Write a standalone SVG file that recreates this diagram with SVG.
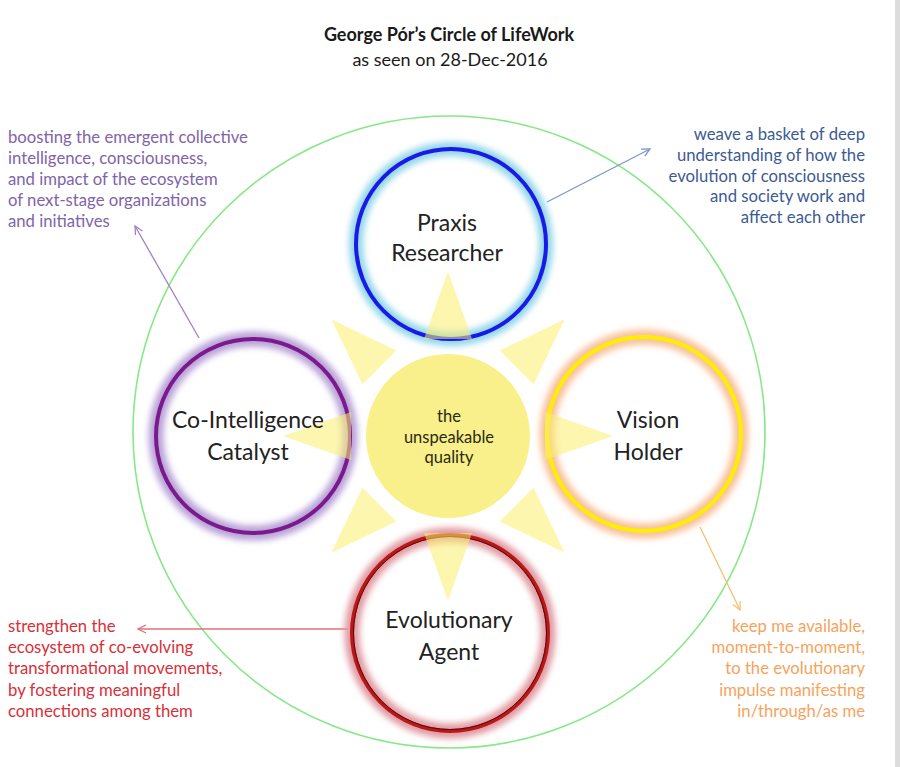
<svg xmlns="http://www.w3.org/2000/svg" xmlns:xlink="http://www.w3.org/1999/xlink" width="900" height="767" viewBox="0 0 900 767">
<style>
text{font-family:Lato,"Open Sans","Liberation Sans",sans-serif}
.title{font-size:18px;font-weight:bold;fill:#1a1a1a;text-anchor:middle}
.sub{font-size:18px;fill:#1a1a1a;text-anchor:middle}
.lbl{font-size:23px;fill:#222;text-anchor:middle}
.ctr{font-size:16.5px;fill:#2a2a10;text-anchor:middle}
.note{font-size:16.7px}
.pur{fill:#8064a8}
.blu{fill:#3c5a94;text-anchor:end}
.red{fill:#d83038}
.org{fill:#f7a35c;text-anchor:end}
.ray{fill:#faee6e;opacity:0.55}
.conn{fill:none;stroke-width:1.3}
</style>
<defs>
<filter id="glow" x="-20%" y="-20%" width="140%" height="140%"><feGaussianBlur stdDeviation="3"/></filter>
<marker id="mp" viewBox="0 0 10 10" refX="9" refY="5" markerWidth="10" markerHeight="10" markerUnits="userSpaceOnUse" orient="auto"><path d="M1,1 L9,5 L1,9" fill="none" stroke="#a080c8" stroke-width="1.3"/></marker>
<marker id="mb" viewBox="0 0 10 10" refX="9" refY="5" markerWidth="10" markerHeight="10" markerUnits="userSpaceOnUse" orient="auto"><path d="M1,1 L9,5 L1,9" fill="none" stroke="#7b98c8" stroke-width="1.3"/></marker>
<marker id="mo" viewBox="0 0 10 10" refX="9" refY="5" markerWidth="10" markerHeight="10" markerUnits="userSpaceOnUse" orient="auto"><path d="M1,1 L9,5 L1,9" fill="none" stroke="#f8c070" stroke-width="1.3"/></marker>
<marker id="mr" viewBox="0 0 10 10" refX="9" refY="5" markerWidth="10" markerHeight="10" markerUnits="userSpaceOnUse" orient="auto"><path d="M1,1 L9,5 L1,9" fill="none" stroke="#e07078" stroke-width="1.3"/></marker>
<polygon id="rayshape" points="448,271 424,339 472,339"/>
</defs>
<rect width="900" height="767" fill="#ffffff"/>
<rect x="895" y="0" width="5" height="767" fill="#dcdcdc"/>

<g id="title">
<text class="title" x="449" y="41">George Pór’s Circle of LifeWork</text>
<text class="sub" x="450" y="66">as seen on 28-Dec-2016</text>
</g>

<circle id="outer-circle" cx="449" cy="432" r="316" fill="none" stroke="#86e886" stroke-width="1.6"/>

<g id="connectors">
<line class="conn" x1="199" y1="338" x2="135" y2="226" stroke="#a080c8" marker-end="url(#mp)"/>
<line class="conn" x1="547" y1="202" x2="650" y2="149" stroke="#7b98c8" marker-end="url(#mb)"/>
<line class="conn" x1="700" y1="527" x2="740" y2="610" stroke="#f8c070" marker-end="url(#mo)"/>
<line class="conn" x1="348" y1="629" x2="138" y2="629" stroke="#e07078" marker-end="url(#mr)"/>
</g>

<g id="praxis">
<circle cx="451" cy="244" r="95" fill="#ffffff"/>
<circle cx="451" cy="244" r="95" fill="none" stroke="#92d6ea" stroke-width="14" filter="url(#glow)"/>
<circle cx="451" cy="244" r="95" fill="none" stroke="#1a1ae6" stroke-width="4"/>
</g>
<g id="cointelligence">
<circle cx="253" cy="436" r="97" fill="#ffffff"/>
<circle cx="253" cy="436" r="97" fill="none" stroke="#b9a2d8" stroke-width="15" filter="url(#glow)"/>
<circle cx="253" cy="436" r="97" fill="none" stroke="#7b1a8c" stroke-width="4"/>
</g>
<g id="vision">
<circle cx="644" cy="434" r="97" fill="#ffffff"/>
<circle cx="644" cy="434" r="97" fill="none" stroke="#f8c29a" stroke-width="15" filter="url(#glow)"/>
<circle cx="644" cy="434" r="97" fill="none" stroke="#ffee00" stroke-width="4"/>
</g>
<g id="evolutionary">
<circle cx="450" cy="633" r="98" fill="#ffffff"/>
<circle cx="450" cy="633" r="98" fill="none" stroke="#e09aa2" stroke-width="15" filter="url(#glow)"/>
<circle cx="450" cy="633" r="98" fill="none" stroke="#b81818" stroke-width="4"/>
<circle cx="450" cy="633" r="96.5" fill="none" stroke="#5a0a0a" stroke-width="1"/>
</g>

<g id="rays">
<use xlink:href="#rayshape" class="ray"/>
<use xlink:href="#rayshape" class="ray" transform="rotate(45 448 436)"/>
<use xlink:href="#rayshape" class="ray" transform="rotate(90 448 436)"/>
<use xlink:href="#rayshape" class="ray" transform="rotate(135 448 436)"/>
<use xlink:href="#rayshape" class="ray" transform="rotate(180 448 436)"/>
<use xlink:href="#rayshape" class="ray" transform="rotate(225 448 436)"/>
<use xlink:href="#rayshape" class="ray" transform="rotate(270 448 436)"/>
<use xlink:href="#rayshape" class="ray" transform="rotate(315 448 436)"/>
</g>

<g id="center">
<circle cx="448" cy="436" r="82" fill="#f9f08c"/>
<text class="ctr" x="449" y="422">the</text>
<text class="ctr" x="449" y="443">unspeakable</text>
<text class="ctr" x="449" y="463">quality</text>
</g>

<g id="labels">
<text class="lbl" x="447" y="231">Praxis</text>
<text class="lbl" x="447" y="261">Researcher</text>
<text class="lbl" x="248" y="428">Co-Intelligence</text>
<text class="lbl" x="248" y="460">Catalyst</text>
<text class="lbl" x="648" y="428">Vision</text>
<text class="lbl" x="648" y="460">Holder</text>
<text class="lbl" x="449" y="628">Evolutionary</text>
<text class="lbl" x="449" y="660">Agent</text>
</g>

<g id="note-purple">
<text class="note pur" x="8" y="143">boosting the emergent collective</text>
<text class="note pur" x="8" y="164">intelligence, consciousness,</text>
<text class="note pur" x="8" y="185">and impact of the ecosystem</text>
<text class="note pur" x="8" y="206">of next-stage organizations</text>
<text class="note pur" x="8" y="227">and initiatives</text>
</g>
<g id="note-blue">
<text class="note blu" x="865" y="140">weave a basket of deep</text>
<text class="note blu" x="865" y="161">understanding of how the</text>
<text class="note blu" x="865" y="182">evolution of consciousness</text>
<text class="note blu" x="865" y="202">and society work and</text>
<text class="note blu" x="865" y="223">affect each other</text>
</g>
<g id="note-red">
<text class="note red" x="8" y="632">strengthen the</text>
<text class="note red" x="8" y="653">ecosystem of co-evolving</text>
<text class="note red" x="8" y="674">transformational movements,</text>
<text class="note red" x="8" y="696">by fostering meaningful</text>
<text class="note red" x="8" y="717">connections among them</text>
</g>
<g id="note-orange">
<text class="note org" x="865" y="632">keep me available,</text>
<text class="note org" x="865" y="653">moment-to-moment,</text>
<text class="note org" x="865" y="674">to the evolutionary</text>
<text class="note org" x="865" y="696">impulse manifesting</text>
<text class="note org" x="865" y="717">in/through/as me</text>
</g>
</svg>
